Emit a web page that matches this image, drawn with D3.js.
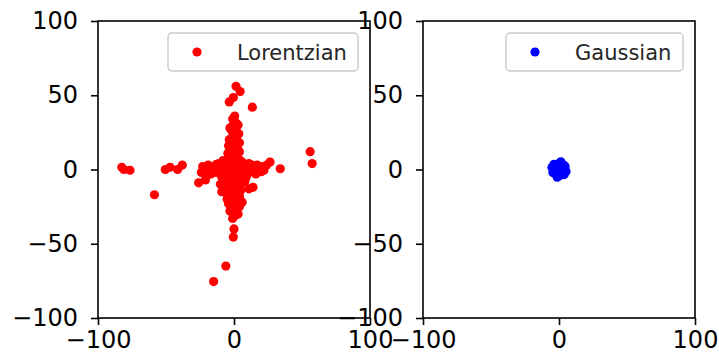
<!DOCTYPE html>
<html>
<head>
<meta charset="utf-8">
<script src="https://d3js.org/d3.v7.min.js"></script>
<style>
  body { margin: 0; background: #fff; }
  svg { display: block; font-family: "DejaVu Sans", sans-serif; }
</style>
</head>
<body>
<svg id="chart" width="719" height="358"></svg>
<script>
// data
const lorentzian = [
  [-82.5, 1.5], [-81, 0], [-76.5, -0.5], [-58.5, -17], [-50.5, 0], [-47, 1.5],
  [-41.5, 0], [-38, 3], [-26, -9], [-22.5, -1], [1.5, 56], [4.5, 52.5],
  [-3.5, 45.5], [-0.5, 48.5], [13.5, 42], [56, 12], [57.5, 4], [34, 0.5],
  [26.5, 5], [0, -40], [-0.5, -45.5], [-6, -65], [-15, -75.5], [11, -13], [-7.5, -14],
  // upper arm
  [0.5, 36], [-1, 34], [1, 32], [-0.5, 30], [1.5, 28], [-1.5, 26], [0, 24], [2, 22],
  [-2, 21], [1, 19], [-1, 17], [2.5, 16], [-2.5, 15], [0, 14], [3, 13], [-1.5, 12],
  [1, 11], [-3, 10], [2, 9.5], [0, 8.5], [3, 30], [-3, 28], [3.5, 24], [-3.5, 20],
  [4, 18], [-4, 16], [4, 12], [-4.5, 11],
  // body
  [-4, 7], [4, 6.5], [-6, 5], [6, 5], [-2, 6], [2, 4], [-8, 3], [8, 3], [-5, 2],
  [5, 1.5], [-1, 2], [1, 1], [0, 0], [-3, 0], [3, -0.5], [-10, 1], [10, 0.5],
  [-12, -0.5], [12, -1], [-15, 0.5], [15, 1], [-18, -1], [18, 0], [-20, 1.5],
  [20, -1.5], [-23, 2], [22, -0.5], [-17, -3], [16, -3], [-7, -2], [7, -2.5],
  [-4, -4], [4, -4], [-2, -3], [2, -2], [-9, -5], [9, -5], [-6, -6], [6, -7],
  [0, -5], [-1, -7], [2, -8], [-3, -9], [3, -10], [-20, -4], [24, 3], [13, 3],
  [-13, 3.5], [11, 4], [-10, -3], [10, -3], [-14, -2], [14, 2], [-8, 6], [8, -8],
  [-5, -9], [5, -10], [-11, 4], [17, 3], [20, 2], [-19, 3], [-24, -2], [-21, -7],
  // lower arm
  [-1, -11], [1, -12], [-4, -13], [5, -14], [-2, -15], [2, -16], [-5, -17], [4, -18],
  [0, -19], [-3, -20], [3, -21], [-1, -22], [1, -24], [-2, -26], [2, -27], [0, -29],
  [1, -31], [-1, -33], [14, -12], [-10, -10], [-4, -23], [4, -25], [-3, -28], [3, -30],
  [-5, -20], [6, -22], [-9, -15]
]

const gaussian = [
  [0, 0], [1.3, 0.7], [-1.3, -0.7], [0.7, -1.3], [-0.7, 1.3], [2.6, 1.3], [-2.6, -1.3],
  [2, -2.6], [-2, 2.6], [4, 0], [-4, 0.7], [0, 4], [0.7, -4], [3.2, 3.2], [-3.2, -2.6],
  [-2.6, 3.2], [2.6, -3.2], [5.2, -1.3], [-5.2, 1.3], [1.3, 5.2], [-1.3, -5.2],
  [0.4, 2.3], [-1, -2.1], [1.6, -0.8], [-1.7, 0.5], [4.5, 2], [-4.5, -2], [1, 3.4],
  [-0.8, -3.5], [2.3, 0.3], [-2.5, -0.4], [0.3, -2.5], [-0.1, 2.7], [-3.8, 3.4],
  [3.8, -3.4]
]

const xTicks = [-100, 0, 100]
const yTicks = [-100, -50, 0, 50, 100]

const panels = [
  { name: 'Lorentzian', data: lorentzian, color: '#ff0000', left: 98 },
  { name: 'Gaussian', data: gaussian, color: '#0000ff', left: 423 }
]

const svg = d3.select('#chart')
const plotTop = 21, plotBottom = 318, plotW = 272

panels.forEach(p => {
  let x = d3.scaleLinear().domain([-100, 100]).range([p.left, p.left + plotW])
  let y = d3.scaleLinear().domain([-100, 100]).range([plotBottom, plotTop])
  let g = svg.append('g')

  // points
  g.append('g').selectAll('circle').data(p.data)
    .enter().append('circle')
    .attr('cx', d => x(d[0]))
    .attr('cy', d => y(d[1]))
    .attr('r', 4.6)
    .attr('fill', p.color)

  // axes
  let xa = g.append('g').attr('transform', 'translate(0,' + plotBottom + ')')
    .call(d3.axisBottom(x).tickValues(xTicks).tickSize(7).tickPadding(6).tickSizeOuter(0))
  let ya = g.append('g').attr('transform', 'translate(' + p.left + ',0)')
    .call(d3.axisLeft(y).tickValues(yTicks).tickSize(7).tickPadding(13).tickSizeOuter(0))
  for (let a of [xa, ya]) {
    a.select('.domain').remove()
    a.selectAll('line').attr('stroke', '#000').attr('stroke-width', 1.6)
    a.selectAll('text').attr('font-size', 24).attr('fill', '#000')
      .attr('font-family', '"DejaVu Sans", sans-serif')
  }

  // frame
  g.append('rect')
    .attr('x', p.left).attr('y', plotTop)
    .attr('width', plotW).attr('height', plotBottom - plotTop)
    .attr('fill', 'none').attr('stroke', '#000').attr('stroke-width', 1.6)

  // legend
  let lw = p.name === 'Lorentzian' ? 190 : 177
  let lx = p.left + plotW - 12 - lw
  let lg = g.append('g')
  lg.append('rect')
    .attr('x', lx).attr('y', 33).attr('width', lw).attr('height', 38).attr('rx', 4)
    .attr('fill', '#fff').attr('fill-opacity', 0.8)
    .attr('stroke', '#cccccc').attr('stroke-width', 1.5)
  lg.append('circle').attr('cx', lx + 29).attr('cy', 52).attr('r', 4.6).attr('fill', p.color)
  lg.append('text').attr('x', lx + 69).attr('y', 59.5)
    .attr('font-size', 21).attr('fill', '#262626').text(p.name)
})
</script>
</body>
</html>
